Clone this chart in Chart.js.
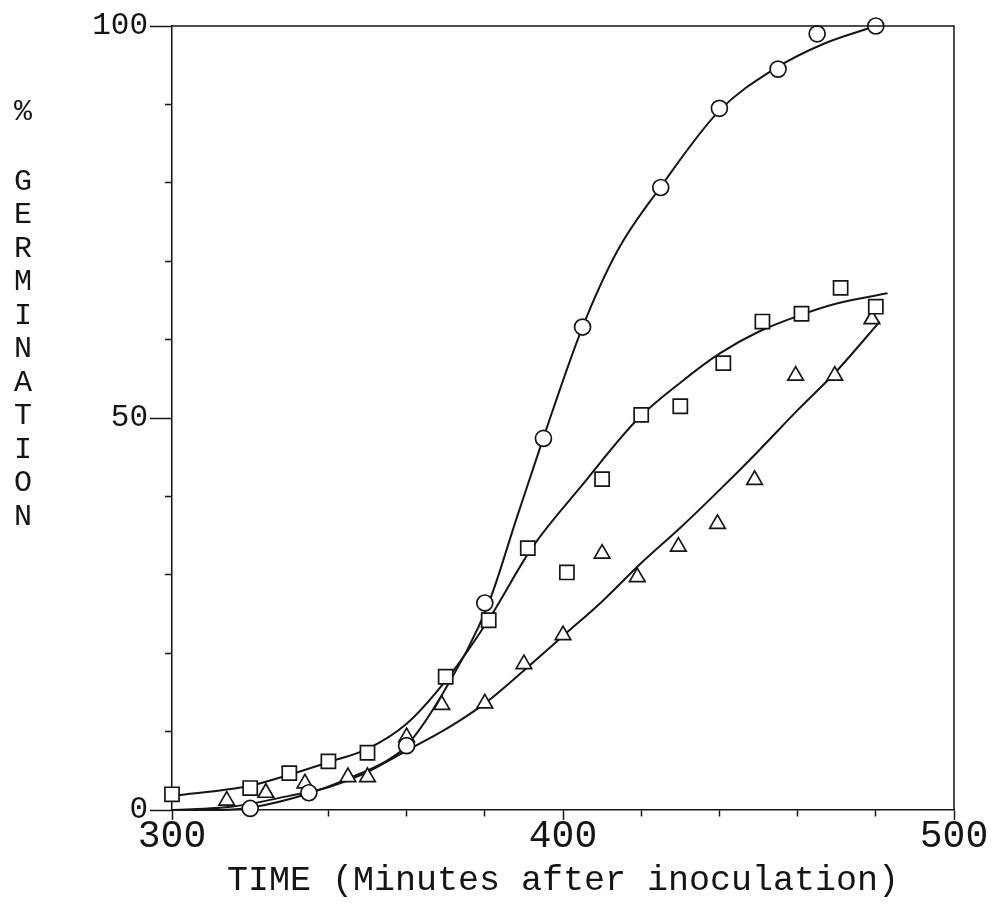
<!DOCTYPE html>
<html>
<head>
<meta charset="utf-8">
<script src="https://cdn.jsdelivr.net/npm/chart.js@4.4.0/dist/chart.umd.min.js"></script>
<style>
  html, body { margin: 0; padding: 0; background: #fff; }
</style>
</head>
<body>
<canvas id="germChart" width="996" height="910"></canvas>
<script>
// Marker readings (minutes after inoculation, % germination)
const circleTimes = [320, 335, 360, 380, 395, 405, 425, 440, 455, 465, 480];
const circleValues = [0.2, 2.2, 8.2, 26.4, 47.4, 61.6, 79.4, 89.5, 94.5, 99, 100];

const squareTimes = [300, 320, 330, 340, 350, 370, 381, 391, 401, 410, 420, 430, 441, 451, 461, 471, 480];
const squareValues = [2, 2.8, 4.7, 6.2, 7.3, 17, 24.2, 33.4, 30.3, 42.2, 50.4, 51.5, 57, 62.3, 63.3, 66.6, 64.2];

const triangleTimes = [314, 324, 334, 345, 350, 360, 369, 380, 390, 400, 410, 419, 429.5, 439.5, 449, 459.5, 469.5, 479];
const triangleValues = [1.2, 2.2, 3.4, 4.2, 4.2, 9.3, 13.4, 13.6, 18.6, 22.3, 32.7, 29.7, 33.6, 36.5, 42.1, 55.4, 55.4, 62.6];

// Points
const circleCurveTimes = [300, 310, 320, 335, 345, 355, 360, 370, 381, 388, 395, 405, 414, 425, 440, 454, 467, 480];
const circleCurveValues = [0, 0, 0.3, 2.1, 4, 6.3, 8.2, 15.5, 26.4, 37, 47.5, 61.6, 71.4, 79.5, 89.2, 94.5, 97.8, 100];

const squareCurveTimes = [300, 320, 330, 340, 350, 360, 370, 381, 392, 405, 419, 430, 440, 450, 460, 470, 483];
const squareCurveValues = [1.8, 3.1, 4.5, 6.1, 7.8, 11, 16.5, 24.3, 33.4, 41.5, 49.8, 54.5, 58.2, 61, 63, 64.6, 65.9];

const triangleCurveTimes = [300, 315, 330, 340, 349, 359, 371, 380, 390, 400, 410, 420, 430, 440, 450, 460, 470, 481];
const triangleCurveValues = [0, 0.4, 1.8, 2.9, 4.6, 7.3, 10.6, 13.6, 17.8, 22.2, 26.6, 31.5, 36, 40.8, 45.8, 51, 56, 62.3];

// Axis labels
const xLabels = [300, 400, 500];
const yLabels = [0, 50, 100];
const xTitle = 'TIME (Minutes after inoculation)';
const yTitleTop = '%';
const yTitleWord = 'GERMINATION';

const ink = '#151515';
const mono = "'Liberation Mono', 'DejaVu Sans Mono', monospace";

function toPoints(xs, ys) {
    return xs.map((x, i) => ({ x: x, y: ys[i] }));
}

function markerSet(xs, ys, style, radius) {
    return {
        data: toPoints(xs, ys),
        showLine: false,
        pointStyle: style,
        pointRadius: radius,
        pointBorderWidth: 1.7,
        pointBorderColor: ink,
        pointBackgroundColor: '#fff',
        clip: false,
        order: 0
    };
}

function curveSet(xs, ys) {
    return {
        data: toPoints(xs, ys),
        showLine: true,
        pointRadius: 0,
        borderColor: ink,
        borderWidth: 2,
        cubicInterpolationMode: 'monotone',
        clip: false,
        order: 1
    };
}

// Top and right edges of the frame
const framePlugin = {
    id: 'frame',
    afterDraw(chart) {
        const { ctx, chartArea: a } = chart;
        ctx.save();
        ctx.strokeStyle = ink;
        ctx.lineWidth = 1.5;
        ctx.beginPath();
        ctx.moveTo(a.left, a.top);
        ctx.lineTo(a.right, a.top);
        ctx.lineTo(a.right, a.bottom);
        ctx.stroke();
        ctx.restore();
    }
};

// Stacked letters of the vertical title
const yTitlePlugin = {
    id: 'yTitle',
    afterDraw(chart) {
        const ctx = chart.ctx;
        ctx.save();
        ctx.fillStyle = ink;
        ctx.font = '30px ' + mono;
        ctx.textAlign = 'center';
        ctx.textBaseline = 'middle';
        ctx.fillText(yTitleTop, 23, 112);
        yTitleWord.split('').forEach((ch, i) => ctx.fillText(ch, 23, 182 + i * 33.5));
        ctx.restore();
    }
};

const isLabel = (list) => (c) => c.tick && list.includes(c.tick.value);

new Chart(document.getElementById('germChart'), {
    type: 'scatter',
    data: {
        datasets: [
            markerSet(circleTimes, circleValues, 'circle', 8),
            markerSet(squareTimes, squareValues, 'rect', 10),
            markerSet(triangleTimes, triangleValues, 'triangle', 9),
            curveSet(circleCurveTimes, circleCurveValues),
            curveSet(squareCurveTimes, squareCurveValues),
            curveSet(triangleCurveTimes, triangleCurveValues)
        ]
    },
    options: {
        responsive: false,
        animation: false,
        devicePixelRatio: 1,
        layout: { padding: { top: 26, right: 42, left: 0, bottom: 0 } },
        plugins: {
            legend: { display: false },
            tooltip: { enabled: false }
        },
        scales: {
            x: {
                type: 'linear',
                min: 300,
                max: 500,
                afterFit(s) { s.height = 100; },
                border: { color: ink, width: 1.5 },
                grid: {
                    drawOnChartArea: false,
                    tickLength: 10,
                    tickWidth: 1.5,
                    tickColor: ink,
                    tickBorderDash: (c) => isLabel(xLabels)(c) ? [] : [6, 100]
                },
                ticks: {
                    stepSize: 20,
                    padding: -6,
                    autoSkip: false,
                    maxRotation: 0,
                    color: ink,
                    font: { family: mono, size: 38 },
                    callback: (v) => xLabels.includes(v) ? String(v) : ''
                },
                title: {
                    display: true,
                    text: xTitle,
                    color: ink,
                    font: { family: mono, size: 35 },
                    padding: { top: 0, bottom: 8 }
                }
            },
            y: {
                min: 0,
                max: 100,
                afterFit(s) { s.width = 172; },
                border: { color: ink, width: 1.5 },
                grid: {
                    drawOnChartArea: false,
                    tickLength: 22,
                    tickWidth: 1.5,
                    tickColor: ink,
                    tickBorderDash: (c) => isLabel(yLabels)(c) ? [] : [0, 15, 7, 100]
                },
                ticks: {
                    stepSize: 10,
                    padding: 2,
                    autoSkip: false,
                    color: ink,
                    font: { family: mono, size: 31 },
                    callback: (v) => yLabels.includes(v) ? String(v) : ''
                }
            }
        }
    },
    plugins: [framePlugin, yTitlePlugin]
});
</script>
</body>
</html>
